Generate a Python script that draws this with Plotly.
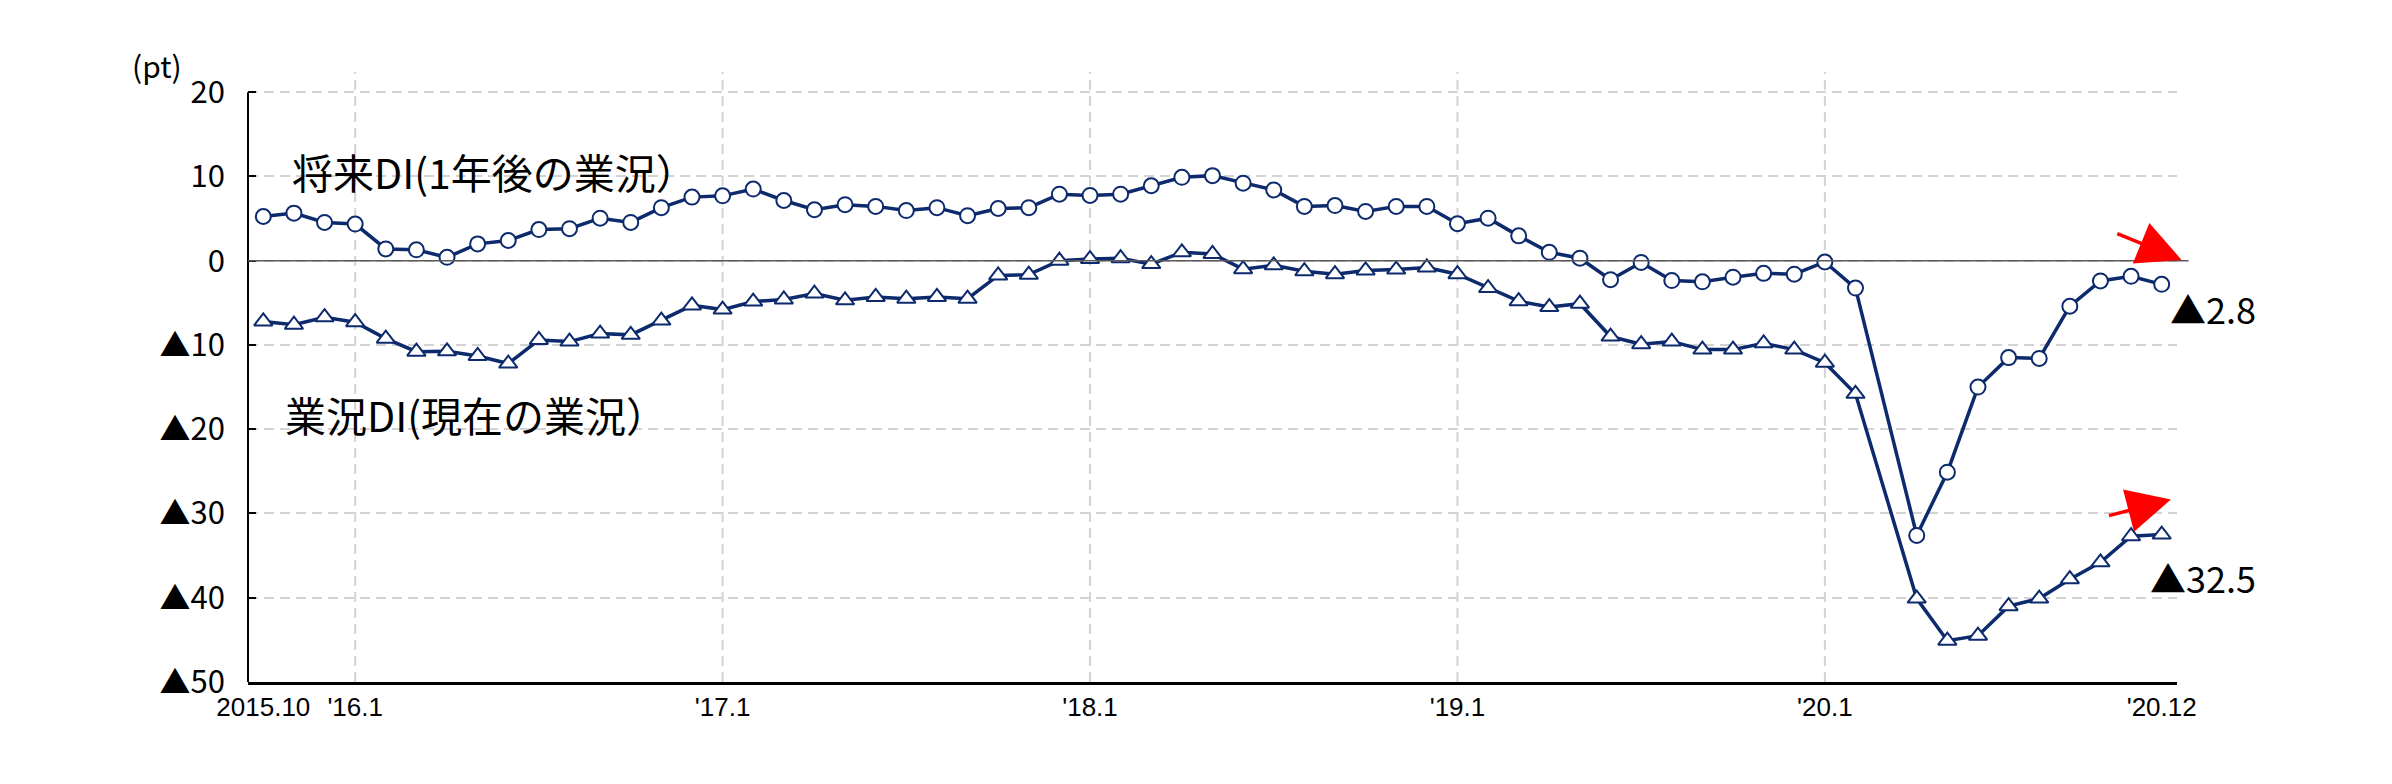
import plotly.graph_objects as go

# ---- data ----
months = [f"{y}.{m}" for y in range(2015, 2021) for m in range(1, 13)
          if (y, m) >= (2015, 10)]

future_di = [5.25, 5.65, 4.55, 4.35, 1.4, 1.3, 0.4, 2.0, 2.4, 3.7, 3.8, 5.05,
             4.55, 6.3, 7.55, 7.7, 8.5, 7.15, 6.05, 6.65, 6.45, 5.95, 6.3, 5.35,
             6.2, 6.3, 7.9, 7.75, 7.9, 8.9, 9.9, 10.1, 9.2, 8.4, 6.45, 6.55,
             5.85, 6.45, 6.45, 4.4, 5.05, 2.95, 1.0, 0.3, -2.25, -0.2, -2.35, -2.5,
             -1.95, -1.5, -1.6, -0.15, -3.25, None, -32.6, -25.1, -15.0, -11.5,
             -11.6, -5.4, -2.4, -1.85, -2.8]

current_di = [-7.2, -7.6, -6.7, -7.3, -9.25, -10.8, -10.75, -11.3, -12.2, -9.4, -9.6, -8.65,
              -8.8, -7.1, -5.3, -5.8, -4.85, -4.6, -3.9, -4.7, -4.3, -4.5, -4.3, -4.5,
              -1.75, -1.65, 0.0, 0.2, 0.3, -0.4, 1.0, 0.8, -1.0, -0.55, -1.25, -1.6,
              -1.15, -1.05, -0.8, -1.6, -3.25, -4.8, -5.5, -5.1, -9.0, -9.9, -9.6, -10.55,
              -10.55, -9.8, -10.55, -12.1, -15.8, None, -40.1, -45.1, -44.5, -41.0,
              -40.1, -37.8, -35.8, -32.7, -32.5]

x_tickvals = ["2015.10", "2016.1", "2017.1", "2018.1", "2019.1", "2020.1", "2020.12"]
x_ticktext = ["2015.10", "'16.1", "'17.1", "'18.1", "'19.1", "'20.1", "'20.12"]
year_grid = ["2016.1", "2017.1", "2018.1", "2019.1", "2020.1"]

y_tickvals = [20, 10, 0, -10, -20, -30, -40, -50]
y_ticktext = ["20", "10", "0", "▲10", "▲20", "▲30", "▲40", "▲50"]

label_future = "将来DI(1年後の業況）"
label_current = "業況DI(現在の業況）"
last_future_text = "▲2.8"
last_current_text = "▲32.5"

NAVY = "#0c2a6c"
FONT = "Noto Sans CJK JP"
GRID = "#d3d3d3"

fig = go.Figure()

fig.add_trace(go.Scatter(
    x=months, y=future_di, mode="lines+markers", connectgaps=True,
    line=dict(color=NAVY, width=3.5),
    marker=dict(symbol="circle", size=15, color="white", line=dict(color=NAVY, width=2)),
    showlegend=False, cliponaxis=False,
))
fig.add_trace(go.Scatter(
    x=months, y=current_di, mode="lines+markers", connectgaps=True,
    line=dict(color=NAVY, width=3.5),
    marker=dict(symbol="triangle-up", size=16, color="white", line=dict(color=NAVY, width=2)),
    showlegend=False, cliponaxis=False,
))

idx = {m: i for i, m in enumerate(months)}

# vertical yearly gridlines
for m in year_grid:
    fig.add_shape(type="line", xref="x", yref="paper", x0=idx[m], x1=idx[m], y0=0, y1=1,
                  line=dict(color=GRID, width=2, dash="10px,6px"), layer="below")

# y axis line (from -50 to 20)
fig.add_shape(type="line", xref="paper", yref="y", x0=0, x1=0, y0=-50, y1=20,
              line=dict(color="black", width=2), layer="above")
# zero line
fig.add_shape(type="line", xref="paper", yref="y", x0=0, x1=1.006, y0=0, y1=0,
              line=dict(color="#5a5a5a", width=1.5), layer="above")

# text labels
fig.add_annotation(x=0.88, y=10.7, xref="x", yref="y", text=label_future, showarrow=False,
                   xanchor="left", yanchor="middle", font=dict(family=FONT, size=41, color="black"))
fig.add_annotation(x=0.64, y=-18.2, xref="x", yref="y", text=label_current, showarrow=False,
                   xanchor="left", yanchor="middle", font=dict(family=FONT, size=41, color="black"))
fig.add_annotation(x=62.2, y=-5.6, xref="x", yref="y", text=last_future_text, showarrow=False,
                   xanchor="left", yanchor="middle", font=dict(family=FONT, size=36, color="black"))
fig.add_annotation(x=61.56, y=-37.5, xref="x", yref="y", text=last_current_text, showarrow=False,
                   xanchor="left", yanchor="middle", font=dict(family=FONT, size=36, color="black"))
fig.add_annotation(x=-0.047, y=1.012, xref="paper", yref="paper", text="(pt)", showarrow=False,
                   xanchor="center", yanchor="middle", font=dict(family=FONT, size=30, color="black"))

# red arrows
fig.add_annotation(x=62.65, y=0.1, ax=60.5, ay=3.3, xref="x", yref="y", axref="x", ayref="y",
                   text="", showarrow=True, arrowhead=2, arrowsize=2.5, arrowwidth=3.5,
                   arrowcolor="#ff0000", standoff=0)
fig.add_annotation(x=62.3, y=-28.35, ax=60.23, ay=-30.3, xref="x", yref="y", axref="x", ayref="y",
                   text="", showarrow=True, arrowhead=2, arrowsize=2.5, arrowwidth=3.5,
                   arrowcolor="#ff0000", standoff=0)

fig.update_xaxes(
    type="category", categoryorder="array", categoryarray=months,
    range=[-0.5, 62.5], tickmode="array", tickvals=x_tickvals, ticktext=x_ticktext,
    showgrid=False, showline=True, linecolor="black", linewidth=3, ticks="",
    tickfont=dict(family="Liberation Sans", size=26, color="black"),
    zeroline=False,
)
fig.update_yaxes(
    range=[-50, 22.4], tickmode="array", tickvals=y_tickvals, ticktext=y_ticktext,
    showgrid=True, gridcolor=GRID, gridwidth=2, griddash="10px,6px",
    showline=False, zeroline=False, ticks="inside", ticklen=8, tickwidth=2, tickcolor="black",
    ticklabelstandoff=22,
    tickfont=dict(family=FONT, size=31, color="black"),
)

# page body has an 8px default margin, so margins are offset to compensate
fig.update_layout(
    width=2392, height=784,
    margin=dict(l=240, r=223, t=64, b=110),
    plot_bgcolor="white", paper_bgcolor="white",
    font=dict(family=FONT, color="black"),
)

fig.write_html("out.html")
